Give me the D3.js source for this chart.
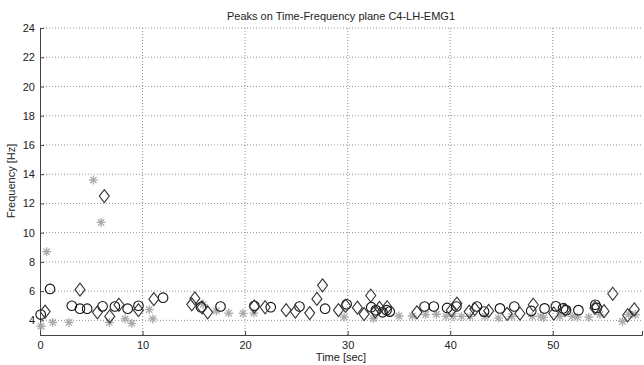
<!DOCTYPE html>
<html>
<head>
<meta charset="utf-8">
<script src="https://cdn.jsdelivr.net/npm/d3@7"></script>
<style>
  body { margin: 0; background: #fff; }
  text { font-family: "Liberation Sans", Arial, sans-serif; }
</style>
</head>
<body>
<svg id="chart" width="644" height="365"></svg>
<script>
// peaks: [time sec, frequency Hz]
const circlePeaks = [
  [0.07,4.4],[0.98,6.15],[3.1,5.0],[3.9,4.8],[4.6,4.8],[6.1,4.96],[7.3,4.95],[8.55,4.8],
  [9.6,5.0],[12.0,5.55],[15.7,4.9],[17.6,4.95],[20.9,5.0],[22.5,4.9],[25.3,4.95],[27.8,4.8],
  [29.9,5.1],[32.3,4.9],[32.75,4.7],[33.4,4.55],[33.8,4.7],[34.1,4.6],[37.5,4.95],[38.4,4.95],
  [39.7,4.85],[40.6,4.95],[42.6,4.95],[43.3,4.6],[44.85,4.82],[46.25,4.95],[47.9,4.65],
  [49.2,4.82],[50.3,4.96],[51.0,4.82],[51.3,4.7],[52.5,4.7],[54.15,5.07],[54.3,4.85]
];
const diamondPeaks = [
  [0.5,4.6],[3.9,6.1],[5.6,4.55],[6.27,12.5],[6.8,4.27],[7.7,5.07],[9.6,4.7],[11.1,5.45],
  [14.8,5.1],[15.1,5.5],[15.8,4.9],[16.35,4.55],[20.9,4.95],[21.95,4.9],[24.0,4.7],[24.9,4.6],
  [26.3,4.5],[27.0,5.47],[27.55,6.4],[29.1,4.7],[29.8,5.0],[30.95,4.87],[31.6,4.43],[32.25,5.7],
  [32.7,4.6],[33.1,4.85],[33.85,4.9],[36.75,4.55],[40.1,4.68],[40.65,5.15],[41.85,4.6],[42.4,4.77],
  [43.75,4.65],[45.55,4.45],[46.8,4.47],[48.1,5.07],[50.1,4.47],[51.2,4.72],[54.1,4.85],[55.0,4.63],
  [55.85,5.82],[57.3,4.35],[57.95,4.75]
];
const starPeaks = [
  [0.1,3.6],[0.65,8.7],[1.24,3.86],[2.83,3.86],[5.2,13.6],[5.95,10.7],[6.76,3.86],[8.3,4.1],
  [8.95,3.8],[10.65,4.73],[11.0,4.1],[15.9,5.1],[17.2,4.65],[18.4,4.5],[19.8,4.48],[20.85,4.5],
  [29.65,4.22],[32.5,4.13],[35.0,4.3],[36.3,4.3],[37.6,4.4],[38.65,4.42],[39.6,4.27],[40.3,4.27],
  [41.1,4.27],[41.95,4.27],[43.4,4.27],[44.7,4.16],[46.0,4.27],[48.0,4.27],[48.8,4.27],[49.1,4.2],
  [50.7,4.27],[51.9,4.27],[52.4,4.22],[53.5,4.22],[54.6,4.4],[56.8,3.93],[57.4,4.4],[58.05,4.4]
];
const xTicks = [0, 10, 20, 30, 40, 50];
const yTicks = [4, 6, 8, 10, 12, 14, 16, 18, 20, 22, 24];

const svg = d3.select('#chart');
const plotL = 40, plotR = 642, plotT = 28, plotB = 335;

const x = d3.scaleLinear().domain([0, 58.7]).range([plotL, plotR]);
const y = d3.scaleLinear().domain([3, 24]).range([plotB, plotT]);

// grid
const grid = svg.append('g');
grid.selectAll('.gx').data(xTicks.filter(d => d > 0)).enter().append('line')
  .attr('x1', d => x(d)).attr('x2', d => x(d)).attr('y1', plotT).attr('y2', plotB)
  .attr('stroke', '#777').attr('stroke-width', 0.8).attr('stroke-dasharray', '1,2');
grid.selectAll('.gy').data(yTicks).enter().append('line')
  .attr('x1', plotL).attr('x2', plotR).attr('y1', d => y(d)).attr('y2', d => y(d))
  .attr('stroke', '#777').attr('stroke-width', 0.8).attr('stroke-dasharray', '1,2');

// axes (matlab style ticks inside)
const xAxis = svg.append('g').attr('transform', `translate(0,${plotB})`)
  .call(d3.axisBottom(x).tickValues(xTicks).tickSize(-4).tickPadding(6));
const yAxis = svg.append('g').attr('transform', `translate(${plotL},0)`)
  .call(d3.axisLeft(y).tickValues(yTicks).tickSize(-4).tickPadding(5));
[xAxis, yAxis].forEach(a => {
  a.select('.domain').attr('stroke', '#444');
  a.selectAll('.tick line').attr('stroke', '#444');
  a.selectAll('text').attr('font-size', 11).attr('fill', '#222')
    .attr('font-family', '"Liberation Sans", Arial, sans-serif');
});

// markers
const star = 'M-4.5,0H4.5M0,-4.5V4.5M-3.2,-3.2L3.2,3.2M-3.2,3.2L3.2,-3.2';
svg.append('g').selectAll('path').data(starPeaks).enter().append('path')
  .attr('d', star)
  .attr('transform', d => `translate(${x(d[0])},${y(d[1])})`)
  .attr('stroke', '#aaa').attr('stroke-width', 1.3).attr('fill', 'none');

svg.append('g').selectAll('circle').data(circlePeaks).enter().append('circle')
  .attr('cx', d => x(d[0])).attr('cy', d => y(d[1])).attr('r', 4.8)
  .attr('fill', 'none').attr('stroke', '#111').attr('stroke-width', 1.1);

const diamond = 'M0,-6.5L5,0L0,6.5L-5,0Z';
svg.append('g').selectAll('path').data(diamondPeaks).enter().append('path')
  .attr('d', diamond)
  .attr('transform', d => `translate(${x(d[0])},${y(d[1])})`)
  .attr('fill', 'none').attr('stroke', '#333').attr('stroke-width', 1.1);

// labels
svg.append('text').attr('x', 341).attr('y', 20).attr('text-anchor', 'middle')
  .attr('font-size', 11).attr('fill', '#222').text('Peaks on Time-Frequency plane C4-LH-EMG1');
svg.append('text').attr('x', 341).attr('y', 361).attr('text-anchor', 'middle')
  .attr('font-size', 11).attr('fill', '#222').text('Time [sec]');
svg.append('text').attr('transform', 'translate(15,181) rotate(-90)').attr('text-anchor', 'middle')
  .attr('font-size', 11).attr('fill', '#222').text('Frequency [Hz]');
</script>
</body>
</html>
